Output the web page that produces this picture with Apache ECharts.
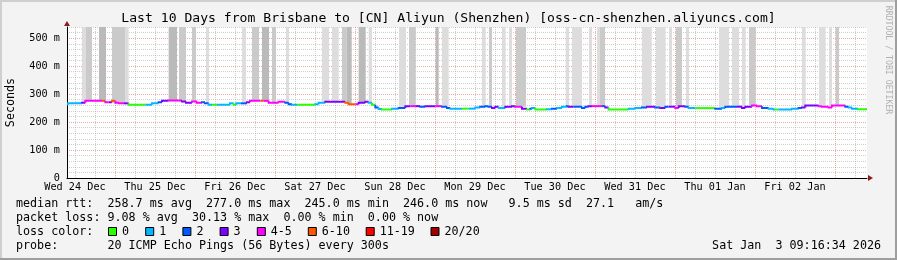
<!DOCTYPE html>
<html><head><meta charset="utf-8">
<script src="https://cdn.jsdelivr.net/npm/echarts@6.0.0/dist/echarts.min.js"></script>
<style>html,body{margin:0;padding:0;background:#f3f3f3}#c{width:897px;height:260px}</style>
</head><body><div id="c"></div>
<script>
// ---- data (x in hours since Wed 24 Dec 00:00) ----
const dayLabels = ['Wed 24 Dec','Thu 25 Dec','Fri 26 Dec','Sat 27 Dec','Sun 28 Dec','Mon 29 Dec','Tue 30 Dec','Wed 31 Dec','Thu 01 Jan','Fri 02 Jan'];
const dayLabelHours = [12,36,60,84,108,132,156,180,204,228];
const xMin = 9.6, xMax = 249.6;
const yMax = 540;

const medStart = [9.6,9.9,14.1,15.1,20.1,21.1,22.1,23.1,24.1,25.2,26.7,28.1,33.1,35.1,37.1,38.1,40.1,44.1,45.3,47.1,
  48.6,50.1,51.0,52.1,53.1,54.6,58.5,59.6,60.4,61.8,63.6,64.5,67.6,68.6,70.1,73.1,75.1,76.1,77.1,78.6,
  84.1,85.1,87.1,93.1,94.1,96.1,97.1,99.1,100.1,101.1,102.1,103.1,104.1,107.1,109.1,111.1,112.6,114.1,115.6,117.1,
  120.1,122.1,123.6,124.6,128.1,130.1,132.1,133.6,135.1,136.1,137.1,138.1,139.1,141.1,143.1,144.1,146.1,147.6,148.6,149.1,
  150.1,153.6,155.1,156.6,158.1,159.6,160.1,161.6,164.1,165.1,166.1,167.1,170.1,171.1,172.1,178.1,180.1,182.1,183.6,186.1,
  187.6,189.1,190.1,192.1,193.1,195.1,196.1,198.1,204.1,206.1,207.1,210.6,212.1,213.1,215.1,216.6,218.1,220.1,221.6,222.0,
  223.0,227.1,229.1,230.1,231.1,235.1,236.1,238.1,239.1,243.1,244.1,245.1,246.9];
const medValue = [262,267,269,276,276,271,271,276,269,267,267,262,262,267,271,276,277,274,269,274,
  269,271,267,262,262,262,267,262,267,267,271,276,276,276,269,273,269,264,262,262,
  264,269,273,269,264,264,269,273,269,262,252,247,245,248,250,257,257,257,255,257,
  257,255,250,248,248,248,252,255,257,255,250,255,250,255,257,255,248,245,248,250,
  245,246,248,250,255,257,255,255,250,255,257,257,257,252,245,248,250,252,255,252,
  250,255,255,250,257,255,250,250,248,250,255,255,250,255,259,257,250,248,245,245,
  245,248,250,252,259,257,255,252,259,255,252,248,246];
const medLoss = [2,1,3,4,6,4,3,6,4,4,3,0,1,1,2,3,4,3,3,4,
  4,2,2,1,0,1,1,0,1,2,3,4,6,4,4,4,2,2,1,0,
  1,1,3,6,6,4,3,3,1,0,2,1,0,1,2,3,4,3,2,3,
  4,2,2,1,0,1,1,2,2,2,3,3,1,3,3,4,3,0,2,1,
  0,1,2,1,1,2,3,2,2,2,3,4,2,3,0,1,1,2,3,2,
  3,2,3,4,3,2,1,0,2,1,2,3,3,3,4,4,2,1,1,0,
  1,1,2,3,3,4,4,4,4,2,1,1,0];

const smokeStart = [14.1,15.3,19.2,23.1,27.0,40.1,43.2,47.1,51.3,62.1,65.1,68.1,71.1,75.3,86.1,89.1,92.1,93.5,97.1,100.1,
  109.2,112.2,120.2,122.1,134.1,136.2,140.1,142.2,144.3,159.2,161.1,166.2,168.6,169.5,182.1,186.3,190.2,192.3,195.3,205.2,
  209.1,212.1,214.2,230.1,235.2,238.2,240.2];
const smokeEnd = [15.3,17.1,21.3,27.0,28.1,42.6,45.3,48.3,52.2,63.3,67.2,70.2,72.3,76.2,88.2,91.1,93.5,95.0,99.2,101.1,
  111.3,114.2,121.1,124.1,135.2,137.1,141.2,143.1,147.3,160.2,164.1,167.1,169.5,171.0,185.0,189.2,191.1,194.1,196.2,208.2,
  211.2,213.2,216.2,231.2,237.2,239.1,241.2];
const smokeLevel = [1,2,3,2,1,3,2,2,1,1,2,3,2,1,1,1,2,3,3,1,
  1,2,3,1,1,2,1,1,2,1,1,1,1,2,1,1,1,2,1,1,
  1,1,2,1,1,1,2];

const lossLabels = ['0','1','2','3','4-5','6-10','11-19','20/20'];
const lossColors = ['#26ff00','#00b8ff','#0059ff','#7e00ff','#ff00ff','#ff5500','#ff0000','#a10000'];
const rttStats = ['258.7','277.0','245.0','246.0','9.5','27.1'];
const lossStats = ['9.08','30.13','0.00','0.00'];

// ---- helpers ----
const MONO = '"DejaVu Sans Mono", monospace';
const smokeColors = ['#ffffff','#dddddd','#cacaca','#bababa'];
function lossIndex(l){ if(l<=3) return l; if(l<=5) return 4; if(l<=10) return 5; if(l<=19) return 6; return 7; }
function medianAt(h){ let v = medValue[0]; for(let i=0;i<medStart.length;i++){ if(medStart[i]<=h) v = medValue[i]; } return v; }

const gridHours = []; for(let h=12; h<xMax; h+=6) gridHours.push(h);

const medData = medStart.map((s,i)=>[s, i+1<medStart.length?medStart[i+1]:xMax, medValue[i], medLoss[i], i>0?medValue[i-1]:medValue[i]]);
const smokeData = smokeStart.map((s,i)=>[s, smokeEnd[i], smokeLevel[i], medianAt((s+smokeEnd[i])/2)]);

const GREY = 'rgba(160,160,160,0.5)', RED = 'rgba(220,90,90,0.5)';

const chart = echarts.init(document.getElementById('c'), null, {renderer:'canvas'});
const X0 = 16;
const legendGraphics = [];
const line1 = 'median rtt:  ' + rttStats[0] + ' ms avg  ' + rttStats[1] + ' ms max  ' + rttStats[2] + ' ms min  ' + rttStats[3] + ' ms now   ' + rttStats[4] + ' ms sd  ' + rttStats[5] + '   am/s';
const line2 = 'packet loss: ' + lossStats[0] + ' % avg  ' + lossStats[1] + ' % max  ' + lossStats[2] + ' % min  ' + lossStats[3] + ' % now';
const line4 = 'probe:       20 ICMP Echo Pings (56 Bytes) every 300s';
function txt(t, x, y, align, extra){ return Object.assign({type:'text', x:x, y:y, silent:true, style:{text:t, font:'11.7px '+MONO, fill:'#000', textAlign:align||'left', align:align||'left', textVerticalAlign:'middle', verticalAlign:'middle'}}, extra||{}); }
legendGraphics.push(txt(line1, X0, 204));
legendGraphics.push(txt(line2, X0, 218));
legendGraphics.push(txt('loss color:', X0, 232));
legendGraphics.push(txt(line4, X0, 246));
legendGraphics.push(txt('Sat Jan  3 09:16:34 2026', 881, 246, 'right'));
let bx = 108;
lossLabels.forEach((lab,i)=>{
  legendGraphics.push({type:'rect', silent:true, shape:{x:bx+0.5, y:227.5, width:8, height:8}, style:{fill:lossColors[i], stroke:'#000', lineWidth:1}});
  legendGraphics.push(txt(lab, bx+14, 232));
  bx += 30.3 + 6.9*lab.length;
});
// frame + watermark
legendGraphics.push({type:'rect', silent:true, shape:{x:0,y:0,width:897,height:2}, style:{fill:'#cfcfcf'}});
legendGraphics.push({type:'rect', silent:true, shape:{x:0,y:0,width:2,height:260}, style:{fill:'#cfcfcf'}});
legendGraphics.push({type:'rect', silent:true, shape:{x:895,y:0,width:2,height:260}, style:{fill:'#9e9e9e'}});
legendGraphics.push({type:'rect', silent:true, shape:{x:0,y:258,width:897,height:2}, style:{fill:'#9e9e9e'}});
legendGraphics.push({type:'text', silent:true, x:888, y:60, rotation:-Math.PI/2, style:{text:'RRDTOOL / TOBI OETIKER', font:'8.2px '+MONO, fill:'#b0b0b0', textAlign:'center', align:'center', textVerticalAlign:'middle', verticalAlign:'middle'}});

const option = {
  backgroundColor:'#f3f3f3',
  animation:false,
  title:{text:'Last 10 Days from Brisbane to [CN] Aliyun (Shenzhen) [oss-cn-shenzhen.aliyuncs.com]', left:'center', top:12, padding:0,
    textStyle:{fontFamily:MONO, fontSize:13.1, fontWeight:'normal', color:'#000'}},
  grid:{left:67, top:27, width:800, height:151, show:true, backgroundColor:'#ffffff', borderWidth:0, containLabel:false, outerBoundsMode:'none'},
  xAxis:[{
    type:'value', min:xMin, max:xMax,
    axisLine:{show:true, lineStyle:{color:'#000', width:1}},
    axisTick:{show:false, customValues:gridHours},
    axisLabel:{customValues:dayLabelHours, margin:4, fontFamily:MONO, fontSize:10.2, color:'#000',
      formatter:(v)=>dayLabels[dayLabelHours.indexOf(v)] || ''},
    splitLine:{show:true, lineStyle:{color:[GREY,GREY,RED,GREY], type:[1,1], width:1}}
  },{
    type:'value', min:xMin, max:xMax, position:'bottom', offset:0,
    axisLine:{show:true, symbol:['none','triangle'], symbolSize:[6,5], symbolOffset:[0,3.5], lineStyle:{color:'#8e1b1b', width:0}},
    axisTick:{show:false}, axisLabel:{show:false}, splitLine:{show:false}
  }],
  yAxis:[{
    type:'value', min:0, max:yMax, interval:20,
    name:'Seconds', nameLocation:'middle', nameGap:50, nameRotate:90,
    nameTextStyle:{fontFamily:MONO, fontSize:11.7, color:'#000'},
    axisLine:{show:true, lineStyle:{color:'#000', width:1}},
    axisTick:{show:false},
    axisLabel:{interval:0, margin:7, fontFamily:MONO, fontSize:10.2, color:'#000',
      formatter:(v)=> (v%100===0 && v<=500) ? (v===0?'0':v+' m') : ''},
    splitLine:{show:true, lineStyle:{color:[RED,GREY,GREY,GREY,GREY], type:[1,1], width:1}}
  },{
    type:'value', min:0, max:yMax, position:'left', offset:0,
    axisLine:{show:true, symbol:['none','triangle'], symbolSize:[6,5], symbolOffset:[0,3.5], lineStyle:{color:'#8e1b1b', width:0}},
    axisTick:{show:false}, axisLabel:{show:false}, splitLine:{show:false}
  }],
  series:[{
    type:'custom', name:'smoke', z:2, clip:true, silent:true,
    data:smokeData,
    renderItem:(params, api)=>{
      const s=api.value(0), e=api.value(1), lvl=api.value(2), low=api.value(3);
      const p0=api.coord([s, low]), p1=api.coord([e, yMax]);
      return {type:'rect', shape:{x:p0[0], y:p1[1], width:p1[0]-p0[0], height:p0[1]-p1[1]}, style:{fill:smokeColors[lvl]}};
    }
  },{
    type:'custom', name:'median', z:3, clip:true, silent:true,
    data:medData,
    renderItem:(params, api)=>{
      const s=api.value(0), e=api.value(1), v=api.value(2), l=api.value(3), pv=api.value(4);
      const a=api.coord([s,pv]), b=api.coord([s,v]), c=api.coord([e,v]);
      return {type:'polyline', shape:{points:[a,b,c]}, style:{stroke:lossColors[lossIndex(l)], lineWidth:2, fill:null, lineCap:'butt'}};
    }
  }],
  graphic:legendGraphics
};
chart.setOption(option);
</script></body></html>
